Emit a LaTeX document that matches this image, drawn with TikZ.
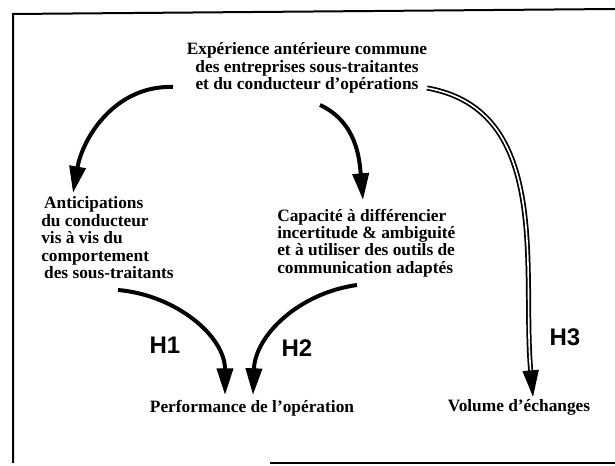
\documentclass[tikz,border=0pt]{standalone}
\usepackage{fontspec}
\setmainfont{Liberation Serif}
\newfontfamily\hfont{Liberation Sans}
\usetikzlibrary{arrows.meta}

\begin{document}
\begin{tikzpicture}[x=0.75pt, y=-0.75pt,
      >={Triangle[length=20pt,width=12pt]},
      every node/.append style={inner sep=0pt},
      txt/.style={font=\bfseries\fontsize{13}{13.1}\selectfont, align=left},
      hyp/.style={font=\hfont\bfseries\fontsize{18}{18}\selectfont},
      plein/.style={line width=3pt},
      creuse/.style={double, double distance=1.2pt, line width=1.3pt}]

     \useasboundingbox (0,0) rectangle (615,466);

     % cadre
     \draw[line width=1.5pt] (13,463) -- (13,14) -- (615,9);
     \draw[line width=1.5pt] (270,463) -- (615,463);

     \node [txt, align=center] (E) at (307,68)
           {Expérience antérieure commune\\des entreprises sous-traitantes\\et du conducteur d'opérations};
     \node [txt, anchor=west] (A) at (41,238)
           {\,Anticipations\\du conducteur\\vis à vis du\\comportement\\\,des sous-traitants};
     \node [txt, anchor=west] (C) at (277,243)
           {Capacité à différencier\\incertitude \& ambiguité\\et à utiliser des outils de\\communication adaptés};
     \node [txt] (P) at (252,408) {Performance de l'opération};
     \node [txt] (V) at (519,407) {Volume d'échanges};

     \node [hyp] (h1) at (165,345) {H1};
     \node [hyp] (h2) at (297,348) {H2};
     \node [hyp] (h3) at (565,337) {H3};

     % departs et pointes
     \coordinate (E-a) at (173,87);
     \coordinate (E-c) at (320,105);
     \coordinate (E-v) at (427,88);
     \coordinate (A-out) at (118,290);
     \coordinate (C-out) at (357,285);
     \coordinate (A-in) at (73,193);
     \coordinate (C-in) at (363,200);
     \coordinate (P-a) at (225,395);
     \coordinate (P-c) at (253,395);
     \coordinate (V-in) at (533,397);

     \path[->] (E-a) edge[plein, out=178, in=80] (A-in)
               (E-c) edge[plein, out=-25, in=95] (C-in)
               (E-v) edge[creuse, out=-10, in=95] (V-in)
               (A-out) edge[plein, out=-5, in=90] (P-a)
               (C-out) edge[plein, out=188, in=88] (P-c);
\end{tikzpicture}
\end{document}
